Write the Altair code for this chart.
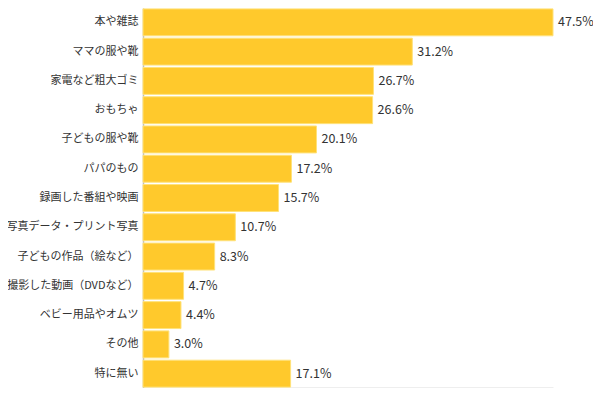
import altair as alt
import pandas as pd

categories = ["本や雑誌", "ママの服や靴", "家電など粗大ゴミ", "おもちゃ", "子どもの服や靴",
              "パパのもの", "録画した番組や映画", "写真データ・プリント写真", "子どもの作品（絵など）",
              "撮影した動画（DVDなど）", "ベビー用品やオムツ", "その他", "特に無い"]
values = [47.5, 31.2, 26.7, 26.6, 20.1, 17.2, 15.7, 10.7, 8.3, 4.7, 4.4, 3.0, 17.1]
labels = [f"{v:.1f}%" for v in values]

df = pd.DataFrame({"cat": categories, "val": values, "label": labels})

FONT = "Noto Sans CJK JP"

x = alt.X("val:Q", scale=alt.Scale(domain=[0, 47.5], nice=False, zero=True),
          axis=alt.Axis(labels=False, ticks=False, grid=False, title=None,
                        domainColor="#bdbdbd", domainWidth=1.5))
y = alt.Y("cat:N", sort=categories, scale=alt.Scale(paddingInner=0.08, paddingOuter=0.03),
          axis=alt.Axis(ticks=False, title=None, labelFont=FONT, labelFontSize=11,
                        labelColor="#333333", labelPadding=5, domainColor="#bdbdbd",
                        domainWidth=1.5, labelLimit=200))

bars = alt.Chart(df).mark_bar(color="#FFC92C", stroke="#FFE27A", strokeWidth=1).encode(x=x, y=y)
text = alt.Chart(df).mark_text(align="left", baseline="middle", dx=5, font=FONT,
                               fontSize=12.5, color="#333333").encode(
    x="val:Q", y=alt.Y("cat:N", sort=categories), text="label:N")

chart = (bars + text).properties(
    width=410, height=380,
    autosize=alt.AutoSizeParams(type="none"),
    padding={"left": 135, "top": 0, "right": 40, "bottom": 0},
).configure(background="white").configure_view(stroke=None)

chart.save("out.html", embed_options={"renderer": "svg", "actions": False})
